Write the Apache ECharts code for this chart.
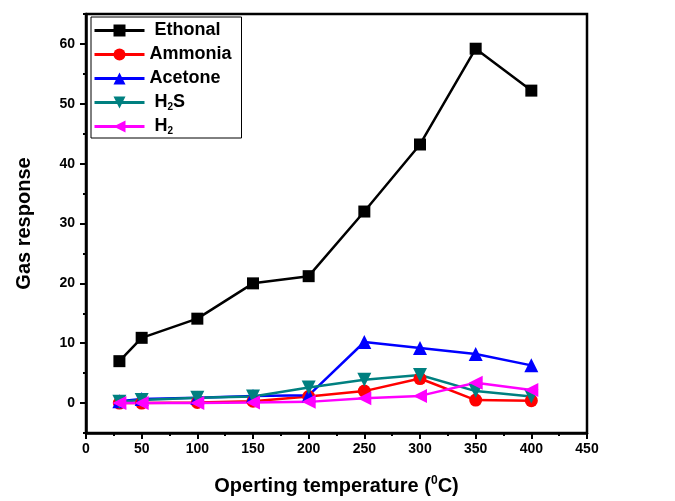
<!DOCTYPE html>
<html><head><meta charset="utf-8">
<script src="https://cdn.jsdelivr.net/npm/echarts@6/dist/echarts.min.js"></script>
<style>html,body{margin:0;padding:0;background:#fff}#c{width:675px;height:501px}</style>
</head><body><div id="c"></div>
<script>
const temps = [30, 50, 100, 150, 200, 250, 300, 350, 400];
const ethonal = [7.0, 10.9, 14.1, 20.0, 21.2, 32.0, 43.2, 59.2, 52.2];
const ammonia = [0.0, 0.0, 0.1, 0.3, 1.1, 2.0, 4.1, 0.5, 0.4];
const acetone = [0.3, 0.7, 0.9, 1.2, 1.3, 10.2, 9.2, 8.2, 6.3];
const h2s = [0.2, 0.5, 0.9, 1.1, 2.6, 3.9, 4.7, 2.0, 1.1];
const h2 = [0.0, 0.0, 0.0, 0.1, 0.2, 0.8, 1.2, 3.4, 2.2];
const yMajor = [0, 10, 20, 30, 40, 50, 60];
const yMinor = [-5, 5, 15, 25, 35, 45, 55, 65];

const font = 'Liberation Sans, Arial, sans-serif';
function pairs(ys){ return temps.map((t,i)=>[t, ys[i]]); }
function mk(name, ys, color, symbol, size, rot){
  return { name, type:'line', data:pairs(ys), symbol, symbolSize:size, symbolRotate:rot||0,
    lineStyle:{color, width:2.5}, itemStyle:{color}, showSymbol:true, animation:false, z:3 };
}
const chart = echarts.init(document.getElementById('c'));
chart.setOption({
  animation:false,
  backgroundColor:'#fff',
  grid:{left:86, right:88, top:14, bottom:64, show:true, borderColor:'#000', borderWidth:2.5},
  legend:{
    left:91, top:17, orient:'vertical', itemGap:5, itemWidth:50, itemHeight:15,
    backgroundColor:'#fff', borderColor:'#000', borderWidth:1, padding:[4,10,2,2],
    lineStyle:{width:3},
    textStyle:{fontFamily:font, fontWeight:'bold', fontSize:18, color:'#000', lineHeight:19,
      rich:{n:{fontFamily:font, fontWeight:'bold', fontSize:18, color:'#000'},
            s:{fontFamily:font, fontWeight:'bold', fontSize:10, color:'#000', verticalAlign:'bottom', padding:[10,0,0,0]}}},
    formatter: function(n){
      if(n==='H2S') return '{n| H}{s|2}{n|S}';
      if(n==='H2') return '{n| H}{s|2}';
      if(n==='Ethonal') return ' Ethonal';
      return n;
    },
    data:['Ethonal','Ammonia','Acetone','H2S','H2']
  },
  xAxis:{
    type:'value', min:0, max:450, interval:50,
    name:'{a|Operting temperature (}{s|0}{a|C)}', nameLocation:'middle', nameGap:42,
    nameTextStyle:{rich:{a:{fontFamily:font, fontWeight:'bold', fontSize:20, color:'#000'},
      s:{fontFamily:font, fontWeight:'bold', fontSize:12, color:'#000', verticalAlign:'top', padding:[0,0,10,0]}}},
    axisLine:{onZero:false, lineStyle:{color:'#000', width:2.5}},
    axisTick:{show:true, inside:false, length:6, lineStyle:{color:'#000', width:2}},
    minorTick:{show:true, splitNumber:2, length:3, lineStyle:{color:'#000', width:2}},
    axisLabel:{fontFamily:font, fontWeight:'bold', fontSize:14, color:'#000', margin:9},
    splitLine:{show:false}
  },
  yAxis:[{
    type:'value', min:-5, max:65,
    name:'Gas response', nameLocation:'middle', nameGap:52, nameRotate:90,
    nameTextStyle:{fontFamily:font, fontWeight:'bold', fontSize:20, color:'#000'},
    axisLine:{show:true, onZero:false, lineStyle:{color:'#000', width:2.5}},
    axisTick:{show:true, customValues:yMajor, length:6, lineStyle:{color:'#000', width:2}},
    axisLabel:{customValues:yMajor, fontFamily:font, fontWeight:'bold', fontSize:14, color:'#000', margin:11},
    splitLine:{show:false}
  },{
    type:'value', min:-5, max:65, position:'left', offset:0,
    axisLine:{show:false},
    axisTick:{show:true, customValues:yMinor, length:3, lineStyle:{color:'#000', width:2}},
    axisLabel:{show:false},
    splitLine:{show:false}
  }],
  series:[
    mk('Ethonal', ethonal, '#000000', 'rect', 12),
    mk('Ammonia', ammonia, '#ff0000', 'circle', 13),
    mk('Acetone', acetone, '#0000ff', 'triangle', 14),
    mk('H2S', h2s, '#008080', 'triangle', 14, 180),
    mk('H2', h2, '#ff00ff', 'triangle', 14, 90)
  ]
});
</script></body></html>
